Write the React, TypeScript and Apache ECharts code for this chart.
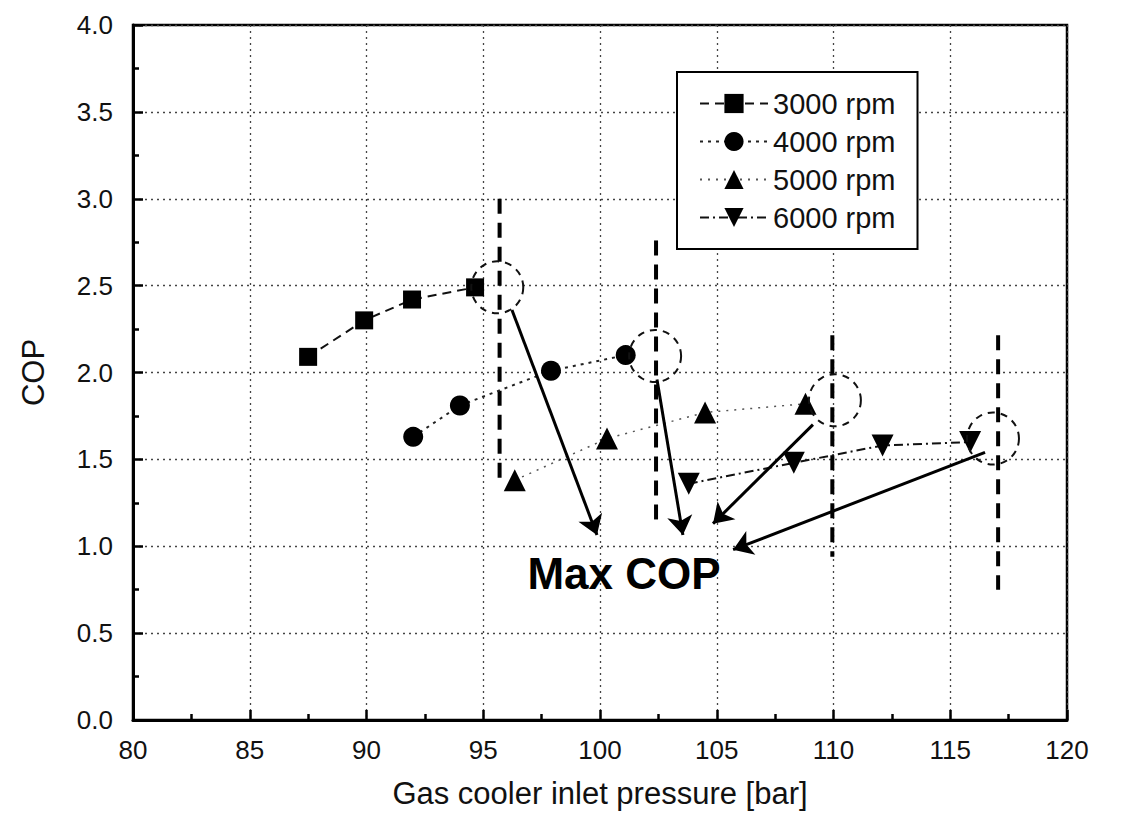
import React, { useEffect, useRef } from "react";
import * as echarts from "echarts";

const FONT = "'Liberation Sans', Arial, Helvetica, sans-serif";

const seriesNames = ["3000 rpm", "4000 rpm", "5000 rpm", "6000 rpm"];
const rpm3000: [number, number][] = [[87.5, 2.09], [89.9, 2.3], [91.95, 2.42], [94.65, 2.49]];
const rpm4000: [number, number][] = [[92.0, 1.63], [94.0, 1.81], [97.9, 2.01], [101.1, 2.1]];
const rpm5000: [number, number][] = [[96.35, 1.38], [100.3, 1.62], [104.5, 1.77], [108.8, 1.82]];
const rpm6000: [number, number][] = [[103.8, 1.36], [108.3, 1.48], [112.1, 1.58], [115.85, 1.6]];

// Max COP circles (centre points)
const maxCircles: [number, number][] = [[95.6, 2.49], [102.36, 2.095], [110.06, 1.84], [116.83, 1.62]];

// Vertical dashed guide lines: [x, yTop, yBottom]
const guideLines: [number, number, number][] = [
  [95.7, 3.0, 1.37],
  [102.4, 2.76, 1.12],
  [109.95, 2.215, 0.94],
  [117.05, 2.215, 0.75],
];

// Arrows: [[x1, y1], [x2, y2]]
const arrows: [number, number][][] = [
  [[96.23, 2.36], [99.87, 1.065]],
  [[102.44, 1.96], [103.55, 1.065]],
  [[109.12, 1.7], [104.84, 1.13]],
  [[116.49, 1.54], [105.7, 0.98]],
];

const maxCopLabel: [number, number] = [101.03, 0.846];
const maxCopText = "Max COP";

const xTicks = { min: 80, max: 120, interval: 5 };
const yTicks = { min: 0, max: 4, interval: 0.5 };

export default function App() {
  const ref = useRef<HTMLDivElement>(null);
  useEffect(() => {
    if (!ref.current) return;
    const chart = echarts.init(ref.current, undefined, { renderer: "svg" });

    const gridLine = { show: true, lineStyle: { color: "#444", width: 1.3, type: [2, 4] as any } };

    const option: any = {
      animation: false,
      backgroundColor: "#fff",
      textStyle: { fontFamily: FONT },
      grid: {
        left: 133,
        right: 54,
        top: 25,
        bottom: 105,
        show: true,
        borderColor: "#000",
        borderWidth: 2.5,
        backgroundColor: "transparent",
      },
      legend: {
        data: seriesNames,
        orient: "vertical",
        left: 677,
        top: 72,
        padding: [17, 22, 17, 22],
        itemGap: 9,
        itemWidth: 68,
        itemHeight: 24,
        borderColor: "#000",
        borderWidth: 2,
        backgroundColor: "#fff",
        textStyle: { fontSize: 29, color: "#111", fontFamily: FONT },
        selectedMode: false,
      },
      xAxis: {
        type: "value",
        min: xTicks.min,
        max: xTicks.max,
        interval: xTicks.interval,
        name: "Gas cooler inlet pressure [bar]",
        nameLocation: "middle",
        nameGap: 58,
        nameTextStyle: { fontSize: 31, color: "#111", fontFamily: FONT },
        axisLine: { show: true, lineStyle: { color: "#000", width: 3 } },
        axisTick: { show: true, inside: true, length: 10, lineStyle: { color: "#000", width: 2.5 } },
        minorTick: { show: true, splitNumber: 2, length: 6, lineStyle: { color: "#000", width: 2.5 } },
        axisLabel: { fontSize: 26, color: "#111", margin: 17, fontFamily: FONT },
        splitLine: gridLine,
      },
      yAxis: {
        type: "value",
        min: yTicks.min,
        max: yTicks.max,
        interval: yTicks.interval,
        name: "COP",
        nameLocation: "middle",
        nameRotate: 90,
        nameGap: 84,
        nameTextStyle: { fontSize: 31, color: "#111", fontFamily: FONT },
        axisLine: { show: true, lineStyle: { color: "#000", width: 3 } },
        axisTick: { show: true, inside: true, length: 10, lineStyle: { color: "#000", width: 2.5 } },
        minorTick: { show: true, splitNumber: 2, length: 6, lineStyle: { color: "#000", width: 2.5 } },
        axisLabel: {
          fontSize: 26,
          color: "#111",
          margin: 20,
          fontFamily: FONT,
          formatter: (v: number) => v.toFixed(1),
        },
        splitLine: gridLine,
      },
      series: [
        {
          name: seriesNames[0],
          type: "line",
          data: rpm3000,
          symbol: "rect",
          symbolSize: 18,
          itemStyle: { color: "#000" },
          lineStyle: { color: "#111", width: 2, type: [9, 6] },
          silent: true,
          z: 5,
        },
        {
          name: seriesNames[1],
          type: "line",
          data: rpm4000,
          symbol: "circle",
          symbolSize: 20,
          itemStyle: { color: "#000" },
          lineStyle: { color: "#222", width: 2, type: [3, 5] },
          silent: true,
          z: 5,
        },
        {
          name: seriesNames[2],
          type: "line",
          data: rpm5000,
          symbol: "triangle",
          symbolSize: 22,
          itemStyle: { color: "#000" },
          lineStyle: { color: "#555", width: 1.5, type: [2, 6] },
          silent: true,
          z: 5,
        },
        {
          name: seriesNames[3],
          type: "line",
          data: rpm6000,
          symbol: "triangle",
          symbolRotate: 180,
          symbolSize: 22,
          itemStyle: { color: "#000" },
          lineStyle: { color: "#111", width: 2, type: [9, 4, 2, 4] },
          silent: true,
          z: 5,
        },
        ...guideLines.map((g, i) => ({
          name: "guide" + i,
          type: "line",
          data: [[g[0], g[1]], [g[0], g[2]]],
          symbol: "none",
          lineStyle: { color: "#000", width: 4, type: [15, 9] },
          silent: true,
          z: 4,
        })),
        {
          name: "maxCircles",
          type: "scatter",
          data: maxCircles,
          symbol: "circle",
          symbolSize: 52,
          itemStyle: {
            color: "transparent",
            borderColor: "#111",
            borderWidth: 2,
            borderType: [7, 6],
            opacity: 1,
          },
          silent: true,
          z: 6,
        },
        {
          name: "arrows",
          type: "lines",
          coordinateSystem: "cartesian2d",
          data: arrows.map((a) => ({ coords: a })),
          symbol: ["none", "arrow"],
          symbolSize: [0, 19],
          lineStyle: { color: "#000", width: 3, opacity: 1, curveness: 0 },
          silent: true,
          z: 7,
        },
        {
          name: "maxCopLabel",
          type: "scatter",
          data: [maxCopLabel],
          symbolSize: 1,
          itemStyle: { color: "transparent", opacity: 1 },
          label: {
            show: true,
            position: "inside",
            formatter: maxCopText,
            fontSize: 44,
            fontWeight: "bold",
            color: "#000",
            opacity: 1,
            fontFamily: FONT,
          },
          silent: true,
          z: 8,
        },
      ],
    };
    chart.setOption(option);
    return () => chart.dispose();
  }, []);
  return (
    <div
      ref={ref}
      style={{ position: "absolute", left: 0, top: 0, width: 1121, height: 825 }}
    />
  );
}
